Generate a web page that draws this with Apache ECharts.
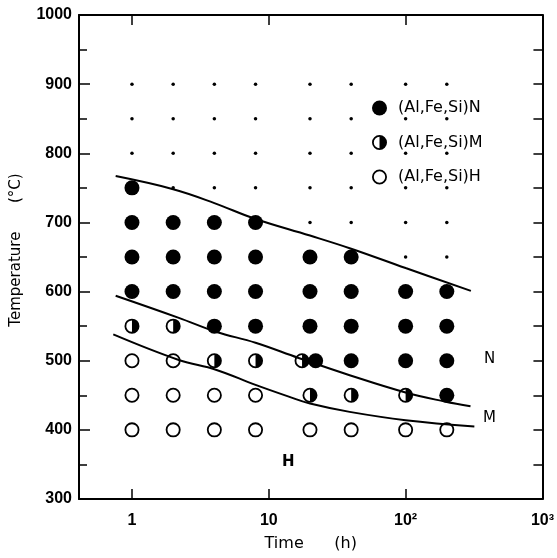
<!DOCTYPE html>
<html>
<head>
<meta charset="utf-8">
<script src="https://cdn.jsdelivr.net/npm/echarts@6/dist/echarts.min.js"></script>
<style>html,body{margin:0;padding:0;background:#fff}#main{width:557px;height:558px}</style>
</head>
<body>
<div id="main"></div>
<script>
// ---- data ----
const xTickValues = [1, 10, 100, 1000];
const xTickLabels = ['1', '10', '10\u00B2', '10\u00B3'];
const yMin = 300, yMax = 1000;

// (Al,Fe,Si)N  - filled circles  [time (h), temperature (°C)]
const nPhase = [
  [1,750],
  [1,700],[2,700],[4,700],[8,700],
  [1,650],[2,650],[4,650],[8,650],[20,650],[40,650],
  [1,600],[2,600],[4,600],[8,600],[20,600],[40,600],[100,600],[200,600],
  [4,550],[8,550],[20,550],[40,550],[100,550],[200,550],
  [22,500],[40,500],[100,500],[200,500],
  [200,450]
];
// (Al,Fe,Si)M  - half filled circles
const mPhase = [
  [1,550],[2,550],
  [4,500],[8,500],[17.5,500],
  [20,450],[40,450],[100,450]
];
// (Al,Fe,Si)H  - open circles
const hPhase = [
  [1,500],[2,500],
  [1,450],[2,450],[4,450],[8,450],
  [1,400],[2,400],[4,400],[8,400],[20,400],[40,400],[100,400],[200,400]
];
// no precipitate - small dots
const noPhase = [
  [1,900],[2,900],[4,900],[8,900],[20,900],[40,900],[100,900],[200,900],
  [1,850],[2,850],[4,850],[8,850],[20,850],[40,850],[100,850],[200,850],
  [1,800],[2,800],[4,800],[8,800],[20,800],[40,800],[100,800],[200,800],
  [2,750],[4,750],[8,750],[20,750],[40,750],[100,750],[200,750],
  [20,700],[40,700],[100,700],[200,700],
  [100,650],[200,650]
];
// boundary curves
const curveN = [[0.76,767],[2,748],[4,728],[8,705],[20,681],[40,662],[100,634],[300,601]];
const curveM = [[0.76,594],[2.2,562],[4.1,542],[8,526],[16.5,504],[39,479],[100,454],[193,441],[298,434]];
const curveH = [[0.73,538],[2.2,501],[4.1,487],[8,465],[14,448],[20,438],[39,426],[100,414],[318,405]];

const seriesNames = ['(Al,Fe,Si)N', '(Al,Fe,Si)M', '(Al,Fe,Si)H'];

// ---- symbols ----
const RING = 'M10 0 A10 10 0 1 1 -10 0 A10 10 0 1 1 10 0 Z M7.6 0 A7.6 7.6 0 1 0 -7.6 0 A7.6 7.6 0 1 0 7.6 0 Z';
const H_SYMBOL = 'path://' + RING;
const M_SYMBOL = 'path://' + RING + ' M0 -7.6 A7.6 7.6 0 0 1 0 7.6 Z';

const FONT = '"Liberation Sans", Arial, sans-serif';
const FONT2 = '"DejaVu Sans", sans-serif';

const chart = echarts.init(document.getElementById('main'), null, {renderer: 'canvas'});

function xLabel(v) {
  const i = xTickValues.findIndex(t => Math.abs(t - v) / t < 1e-6);
  return i >= 0 ? xTickLabels[i] : '';
}

const axisLine = {show: true, onZero: false, lineStyle: {color: '#000', width: 2}};
const black = {color: '#000', opacity: 1};

const option = {
  animation: false,
  backgroundColor: '#fff',
  grid: {left: 79, right: 12, top: 15, bottom: 59},
  legend: {
    orient: 'vertical',
    left: 367,
    top: 95,
    itemWidth: 15,
    itemHeight: 15,
    itemGap: 18.5,
    selectedMode: false,
    textStyle: {fontFamily: FONT2, fontSize: 16, color: '#000', padding: [0, 0, 0, 6]},
    data: [
      {name: seriesNames[0], icon: 'circle'},
      {name: seriesNames[1], icon: M_SYMBOL},
      {name: seriesNames[2], icon: H_SYMBOL}
    ]
  },
  xAxis: [
    {
      type: 'log', logBase: 10, min: 0.41, max: 1000, position: 'bottom',
      axisLine: axisLine,
      axisTick: {show: true, inside: true, length: 10, lineStyle: {color: '#000', width: 1.5}, customValues: [1, 10, 100]},
      axisLabel: {customValues: xTickValues, formatter: xLabel, margin: 14, color: '#000',
                  fontFamily: FONT, fontWeight: 'bold', fontSize: 16},
      splitLine: {show: false}, minorTick: {show: false},
      name: 'Time      (h)', nameLocation: 'middle', nameGap: 37,
      nameTextStyle: {fontFamily: FONT2, fontSize: 16, color: '#000'}
    },
    {
      type: 'log', logBase: 10, min: 0.41, max: 1000, position: 'top',
      axisLine: axisLine,
      axisTick: {show: true, inside: true, length: 10, lineStyle: {color: '#000', width: 1.5}, customValues: [1, 10, 100]},
      axisLabel: {show: false},
      splitLine: {show: false}
    }
  ],
  yAxis: [
    {
      type: 'value', min: yMin, max: yMax, interval: 100, position: 'left',
      axisLine: axisLine,
      axisTick: {show: true, inside: true, length: 11, lineStyle: {color: '#000', width: 1.5}},
      minorTick: {show: true, splitNumber: 2, length: 8, lineStyle: {color: '#000', width: 1.5}},
      axisLabel: {margin: 7, color: '#000', fontFamily: FONT, fontWeight: 'bold', fontSize: 16,
                  formatter: v => String(v)},
      splitLine: {show: false}, minorSplitLine: {show: false},
      name: 'Temperature      (\u00B0C)', nameLocation: 'middle', nameGap: 55,
      nameTextStyle: {fontFamily: FONT2, fontSize: 15, color: '#000', padding: [0, 0, 0, 14]}
    },
    {
      type: 'value', min: yMin, max: yMax, interval: 50, position: 'right',
      axisLine: axisLine,
      axisTick: {show: true, inside: true, length: 9, lineStyle: {color: '#000', width: 1.5}},
      axisLabel: {show: false},
      splitLine: {show: false}
    }
  ],
  graphic: [
    {type: 'text', left: 484, top: 352, style: {text: 'N', font: '15px "DejaVu Sans"', fill: '#000'}},
    {type: 'text', left: 483, top: 411, style: {text: 'M', font: '15px "DejaVu Sans"', fill: '#000'}},
    {type: 'text', left: 282, top: 455, style: {text: 'H', font: 'bold 15px "DejaVu Sans"', fill: '#000'}}
  ],
  series: [
    {type: 'line', name: 'curveN', data: curveN, smooth: 0.4, showSymbol: false, silent: true,
     lineStyle: {color: '#000', width: 2}, z: 3},
    {type: 'line', name: 'curveM', data: curveM, smooth: 0.4, showSymbol: false, silent: true,
     lineStyle: {color: '#000', width: 2}, z: 3},
    {type: 'line', name: 'curveH', data: curveH, smooth: 0.4, showSymbol: false, silent: true,
     lineStyle: {color: '#000', width: 2}, z: 3},
    {type: 'scatter', name: 'none', data: noPhase, symbol: 'circle', symbolSize: 3.5,
     itemStyle: black, silent: true, z: 4},
    {type: 'scatter', name: seriesNames[0], data: nPhase, symbol: 'circle', symbolSize: 15,
     itemStyle: black, silent: true, z: 4},
    {type: 'scatter', name: seriesNames[1], data: mPhase, symbol: M_SYMBOL, symbolSize: 15,
     itemStyle: black, silent: true, z: 4},
    {type: 'scatter', name: seriesNames[2], data: hPhase, symbol: H_SYMBOL, symbolSize: 15,
     itemStyle: black, silent: true, z: 4}
  ]
};
chart.setOption(option);
</script>
</body>
</html>
